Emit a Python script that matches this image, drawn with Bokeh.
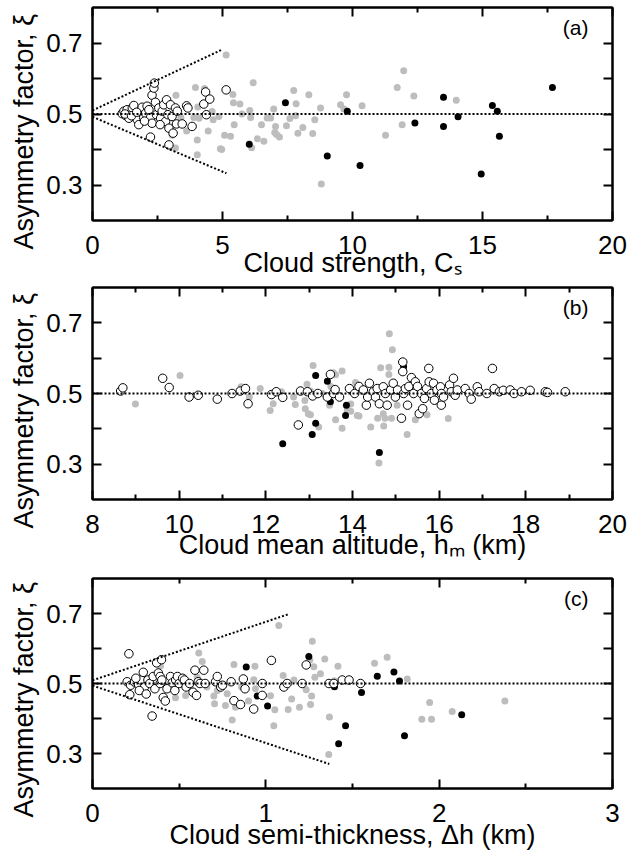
from bokeh.plotting import figure
from bokeh.models import LinearAxis, FixedTicker, Label, Range1d, Title
from bokeh.layouts import column
from bokeh.embed import file_html
from bokeh.resources import INLINE

FONT = "Liberation Sans"
GRAY = "#bdbdbd"

# shared asymmetry-factor axis
XI_RANGE = (0.2, 0.8)
XI_TICKS = [0.3, 0.5, 0.7]
XI_MINOR = [0.4, 0.6]
Y_TITLE = "Asymmetry factor, ξ"

# ---------------- panel (a): cloud strength ----------------
A_RANGE = (0, 20)
A_TICKS = [0, 5, 10, 15, 20]
A_MINOR = [2.5, 7.5, 12.5, 17.5]
A_TITLE = "Cloud strength, Cₛ"

a_gray_x = [3.21, 3.96, 4.31, 4.05, 4.10, 3.90, 3.40, 2.72, 3.06, 3.62, 4.03, 4.03, 4.45, 4.64,
            4.60, 4.86, 4.92, 4.97, 5.08, 5.31, 5.14, 5.40, 5.42, 5.45, 5.67, 5.75, 6.18, 6.12,
            6.05, 6.08, 6.34, 6.50, 6.59, 6.72, 6.85, 6.97, 7.04, 7.01, 7.19, 7.08, 7.46, 7.59,
            7.74, 7.83, 7.81, 7.90, 8.09, 8.32, 8.47, 8.55, 8.77, 8.80, 9.54, 9.67, 9.77, 10.37,
            11.27, 11.72, 11.91, 11.97, 12.36, 13.99, 3.19, 2.90]
a_gray_y = [0.553, 0.575, 0.572, 0.520, 0.488, 0.490, 0.490, 0.470, 0.440, 0.452, 0.427, 0.385,
            0.452, 0.484, 0.507, 0.493, 0.402, 0.400, 0.440, 0.437, 0.666, 0.555, 0.532, 0.470,
            0.528, 0.500, 0.588, 0.405, 0.510, 0.490, 0.430, 0.470, 0.423, 0.489, 0.489, 0.514,
            0.465, 0.448, 0.435, 0.442, 0.467, 0.487, 0.566, 0.529, 0.495, 0.446, 0.462, 0.554,
            0.445, 0.484, 0.517, 0.303, 0.526, 0.514, 0.554, 0.523, 0.440, 0.575, 0.470, 0.622,
            0.551, 0.539, 0.404, 0.460]

a_black_x = [7.42, 9.80, 6.03, 9.03, 10.29, 12.40, 13.50, 13.50, 14.06, 14.95, 15.38, 15.57,
             15.65, 17.69]
a_black_y = [0.532, 0.508, 0.415, 0.382, 0.355, 0.475, 0.547, 0.465, 0.492, 0.331, 0.524, 0.508,
             0.437, 0.575]

a_open_x = [1.14, 1.21, 1.27, 1.33, 1.40, 1.46, 1.53, 1.59, 1.63, 1.72, 1.78, 1.85, 1.91, 1.97,
            2.04, 2.10, 2.17, 2.23, 2.29, 2.23, 2.29, 2.36, 2.38, 2.42, 2.46, 2.55, 2.62, 2.68,
            2.74, 2.81, 2.85, 2.90, 2.94, 2.94, 3.00, 3.06, 3.10, 3.19, 3.23, 3.26, 3.45, 3.62,
            3.67, 3.83, 4.28, 4.35, 4.51, 4.38, 5.14, 1.25, 1.50, 1.70, 2.00, 2.60]
a_open_y = [0.501, 0.508, 0.496, 0.512, 0.488, 0.502, 0.517, 0.524, 0.493, 0.484, 0.470, 0.508,
            0.519, 0.490, 0.502, 0.522, 0.512, 0.490, 0.474, 0.435, 0.553, 0.573, 0.587, 0.533,
            0.498, 0.517, 0.488, 0.508, 0.526, 0.479, 0.540, 0.498, 0.460, 0.413, 0.526, 0.493,
            0.446, 0.517, 0.472, 0.508, 0.472, 0.523, 0.517, 0.465, 0.528, 0.562, 0.542, 0.498,
            0.568, 0.500, 0.495, 0.505, 0.480, 0.470]

a_guides = [([0, 20], [0.5, 0.5]), ([0, 5.0], [0.51, 0.682]), ([0, 5.15], [0.492, 0.333])]

# ---------------- panel (b): cloud mean altitude ----------------
B_RANGE = (8, 20)
B_TICKS = [8, 10, 12, 14, 16, 18, 20]
B_MINOR = [9, 11, 13, 15, 17, 19]
B_TITLE = "Cloud mean altitude, hₘ (km)"

b_gray_x = [8.99, 10.02, 11.43, 11.62, 11.87, 12.10, 12.17, 12.36, 12.64, 12.68, 12.91, 12.95,
            13.03, 13.09, 12.90, 12.98, 13.03, 13.22, 13.47, 13.56, 13.61, 13.61, 13.76, 13.76,
            13.88, 13.96, 13.96, 14.07, 14.11, 14.15, 14.42, 14.58, 14.65, 14.72, 14.71, 14.75,
            14.84, 14.84, 14.85, 14.92, 14.90, 15.03, 15.26, 15.45, 15.72, 16.21, 14.61, 13.30,
            13.50]
b_gray_y = [0.470, 0.551, 0.519, 0.490, 0.514, 0.452, 0.471, 0.505, 0.490, 0.469, 0.457, 0.526,
            0.507, 0.579, 0.480, 0.443, 0.440, 0.405, 0.467, 0.559, 0.553, 0.426, 0.564, 0.402,
            0.452, 0.470, 0.450, 0.531, 0.438, 0.436, 0.405, 0.430, 0.573, 0.408, 0.443, 0.430,
            0.574, 0.554, 0.669, 0.624, 0.430, 0.467, 0.384, 0.426, 0.440, 0.429, 0.303, 0.500,
            0.520]

b_black_x = [12.39, 13.15, 13.42, 13.49, 13.86, 13.84, 13.15, 13.07, 14.62, 15.18]
b_black_y = [0.358, 0.551, 0.535, 0.477, 0.467, 0.438, 0.416, 0.384, 0.333, 0.576]

b_open_x = [8.65, 8.70, 9.62, 9.77, 10.23, 10.44, 10.88, 11.22, 11.41, 11.53, 11.59, 12.13,
            12.24, 12.39, 12.75, 12.80, 12.96, 13.08, 13.20, 13.42, 13.49, 13.56, 13.60, 13.70,
            13.93, 14.05, 14.15, 14.25, 14.32, 14.35, 14.39, 14.48, 14.53, 14.57, 14.62, 14.71,
            14.76, 14.80, 14.88, 14.94, 14.99, 15.04, 15.16, 15.16, 15.13, 15.18, 15.22, 15.27,
            15.30, 15.36, 15.41, 15.45, 15.50, 15.59, 15.54, 15.62, 15.66, 15.71, 15.76, 15.77,
            15.82, 15.87, 15.89, 15.95, 16.03, 16.05, 16.05, 16.10, 16.24, 16.33, 16.28, 16.37,
            16.42, 16.60, 16.69, 16.74, 16.88, 16.92, 17.10, 17.23, 17.27, 17.39, 17.48, 17.64,
            17.73, 17.90, 18.10, 18.45, 18.50, 18.91]
b_open_y = [0.507, 0.516, 0.543, 0.517, 0.490, 0.495, 0.484, 0.500, 0.507, 0.514, 0.471, 0.497,
            0.505, 0.489, 0.411, 0.507, 0.505, 0.493, 0.500, 0.490, 0.554, 0.500, 0.511, 0.490,
            0.514, 0.500, 0.520, 0.510, 0.467, 0.490, 0.529, 0.505, 0.490, 0.514, 0.471, 0.519,
            0.500, 0.467, 0.510, 0.529, 0.490, 0.510, 0.589, 0.562, 0.430, 0.500, 0.514, 0.467,
            0.520, 0.545, 0.500, 0.533, 0.520, 0.500, 0.443, 0.457, 0.486, 0.514, 0.571, 0.533,
            0.500, 0.529, 0.481, 0.510, 0.519, 0.500, 0.467, 0.490, 0.524, 0.543, 0.505, 0.495,
            0.510, 0.514, 0.500, 0.484, 0.519, 0.505, 0.500, 0.571, 0.514, 0.505, 0.509, 0.510,
            0.500, 0.505, 0.509, 0.505, 0.503, 0.505]

b_guides = [([8, 20], [0.5, 0.5])]

# ---------------- panel (c): cloud semi-thickness ----------------
C_RANGE = (0, 3)
C_TICKS = [0, 1, 2, 3]
C_MINOR = [0.5, 1.5, 2.5]
C_TITLE = "Cloud semi-thickness, Δh (km)"

c_gray_x = [1.075, 1.268, 1.254, 1.277, 1.340, 1.315, 1.283, 1.416, 1.627, 1.700, 1.816, 1.100,
            1.162, 1.233, 1.264, 1.258, 1.194, 1.129, 1.149, 1.052, 1.046, 1.027, 1.367, 1.363,
            1.945, 1.900, 1.956, 2.075, 2.379, 1.396, 0.613, 0.633, 0.816, 0.937, 0.930, 0.940,
            0.777, 0.767, 0.700, 0.704, 0.806, 0.825, 0.479, 0.537, 0.604, 0.565, 0.392, 0.660,
            0.720, 0.860, 0.450, 0.900]
c_gray_y = [0.666, 0.621, 0.567, 0.548, 0.570, 0.528, 0.518, 0.549, 0.558, 0.575, 0.513, 0.523,
            0.510, 0.482, 0.464, 0.440, 0.432, 0.426, 0.456, 0.425, 0.379, 0.465, 0.404, 0.297,
            0.446, 0.398, 0.398, 0.420, 0.450, 0.508, 0.587, 0.563, 0.554, 0.549, 0.511, 0.485,
            0.471, 0.437, 0.464, 0.442, 0.396, 0.432, 0.459, 0.466, 0.518, 0.489, 0.550, 0.490,
            0.480, 0.490, 0.520, 0.450]

c_black_x = [0.887, 0.950, 1.010, 1.248, 1.396, 1.420, 1.460, 1.552, 1.643, 1.739, 1.771, 1.800,
             2.130]
c_black_y = [0.547, 0.464, 0.436, 0.577, 0.491, 0.328, 0.379, 0.474, 0.521, 0.533, 0.507, 0.351,
             0.411]

c_open_x = [0.210, 0.344, 0.200, 0.220, 0.215, 0.243, 0.266, 0.280, 0.293, 0.300, 0.320, 0.330,
            0.350, 0.360, 0.370, 0.380, 0.390, 0.390, 0.398, 0.400, 0.408, 0.420, 0.430, 0.450,
            0.460, 0.475, 0.480, 0.490, 0.500, 0.520, 0.530, 0.540, 0.560, 0.580, 0.591, 0.600,
            0.610, 0.620, 0.642, 0.650, 0.710, 0.720, 0.740, 0.750, 0.800, 0.816, 0.854, 0.870,
            0.880, 0.930, 0.980, 0.979, 1.032, 1.104, 1.123, 1.210, 1.233, 1.364, 1.392, 1.441,
            1.480, 1.546, 0.250, 0.270, 0.310]
c_open_y = [0.585, 0.407, 0.505, 0.495, 0.468, 0.504, 0.497, 0.510, 0.532, 0.490, 0.510, 0.500,
            0.520, 0.485, 0.559, 0.530, 0.500, 0.520, 0.568, 0.510, 0.460, 0.450, 0.485, 0.520,
            0.502, 0.480, 0.510, 0.520, 0.500, 0.515, 0.510, 0.490, 0.500, 0.475, 0.538, 0.466,
            0.505, 0.500, 0.538, 0.500, 0.505, 0.520, 0.490, 0.495, 0.505, 0.451, 0.440, 0.513,
            0.485, 0.427, 0.500, 0.466, 0.566, 0.490, 0.500, 0.500, 0.553, 0.500, 0.500, 0.510,
            0.510, 0.500, 0.515, 0.480, 0.470]

c_guides = [([0, 3], [0.5, 0.5]), ([0, 1.13], [0.509, 0.698]), ([0, 1.366], [0.494, 0.27])]


def style_axis(ax, mirror, minor_len):
    ax.axis_line_width = 2
    ax.axis_line_color = "black"
    ax.major_tick_in = 9
    ax.major_tick_out = 0
    ax.minor_tick_in = minor_len
    ax.minor_tick_out = 0
    ax.major_tick_line_width = 2
    ax.minor_tick_line_width = 2
    ax.major_label_text_font = FONT
    ax.major_label_text_font_style = "normal"
    ax.major_label_text_font_size = "26px"
    ax.major_label_text_color = "black"
    ax.axis_label_text_font = FONT
    ax.axis_label_text_font_style = "normal"
    ax.axis_label_text_font_size = "27px"
    ax.axis_label_text_color = "black"
    if mirror:
        ax.major_label_text_color = None
        ax.major_label_text_font_size = "1px"
        ax.major_label_standoff = 0


def panel(x_range, x_ticks, x_minor, height, top, bottom, gray, black, opened, guides,
          tag, x_title, x_title_standoff):
    p = figure(width=630, height=height,
               x_range=Range1d(*x_range), y_range=Range1d(*XI_RANGE),
               output_backend="svg", toolbar_location=None,
               min_border_left=92, min_border_right=18,
               min_border_top=top, min_border_bottom=bottom,
               background_fill_color="white", border_fill_color="white")
    p.grid.visible = False
    p.outline_line_color = "black"
    p.outline_line_width = 2
    p.add_layout(LinearAxis(), "above")
    p.add_layout(LinearAxis(), "right")

    for ax in p.xaxis:
        ax.ticker = FixedTicker(ticks=x_ticks, minor_ticks=x_minor)
        style_axis(ax, ax in p.above, 5)
    for ax in p.yaxis:
        ax.ticker = FixedTicker(ticks=XI_TICKS, minor_ticks=XI_MINOR)
        style_axis(ax, ax in p.right, 9)

    bottom_axis = p.below[0]
    bottom_axis.major_label_standoff = 15
    bottom_axis.axis_label = x_title
    bottom_axis.axis_label_standoff = x_title_standoff

    p.left[0].major_label_standoff = 10
    # vertical title, starting a little below the bottom of the frame
    p.add_layout(Title(text=Y_TITLE, align="left", offset=-29, standoff=10,
                       text_font=FONT, text_font_size="27px", text_font_style="normal",
                       text_color="black"), "left")

    p.scatter(gray[0], gray[1], marker="circle", size=7, fill_color=GRAY, line_color=None)
    p.scatter(black[0], black[1], marker="circle", size=7, fill_color="black", line_color=None)
    p.scatter(opened[0], opened[1], marker="circle", size=8.5, fill_color="white",
              line_color="black", line_width=1)
    for gx, gy in guides:
        p.line(gx, gy, line_color="black", line_width=2, line_dash="2 2")

    # panel tag in the upper-right corner
    p.add_layout(Label(x=x_range[1], y=XI_RANGE[1], x_offset=-24, y_offset=-20, text=tag,
                       text_align="right", text_baseline="middle", text_font=FONT,
                       text_font_size="21px", text_color="black"))
    return p


pa = panel(A_RANGE, A_TICKS, A_MINOR, 286, 7, 66,
           (a_gray_x, a_gray_y), (a_black_x, a_black_y), (a_open_x, a_open_y), a_guides,
           "(a)", A_TITLE, -9)
pb = panel(B_RANGE, B_TICKS, B_MINOR, 279, 1, 66,
           (b_gray_x, b_gray_y), (b_black_x, b_black_y), (b_open_x, b_open_y), b_guides,
           "(b)", B_TITLE, -6)
pc = panel(C_RANGE, C_TICKS, C_MINOR, 290, 13, 67,
           (c_gray_x, c_gray_y), (c_black_x, c_black_y), (c_open_x, c_open_y), c_guides,
           "(c)", C_TITLE, -5)

layout = column(pa, pb, pc, spacing=0)
open("out.html", "w").write(file_html(layout, INLINE))
